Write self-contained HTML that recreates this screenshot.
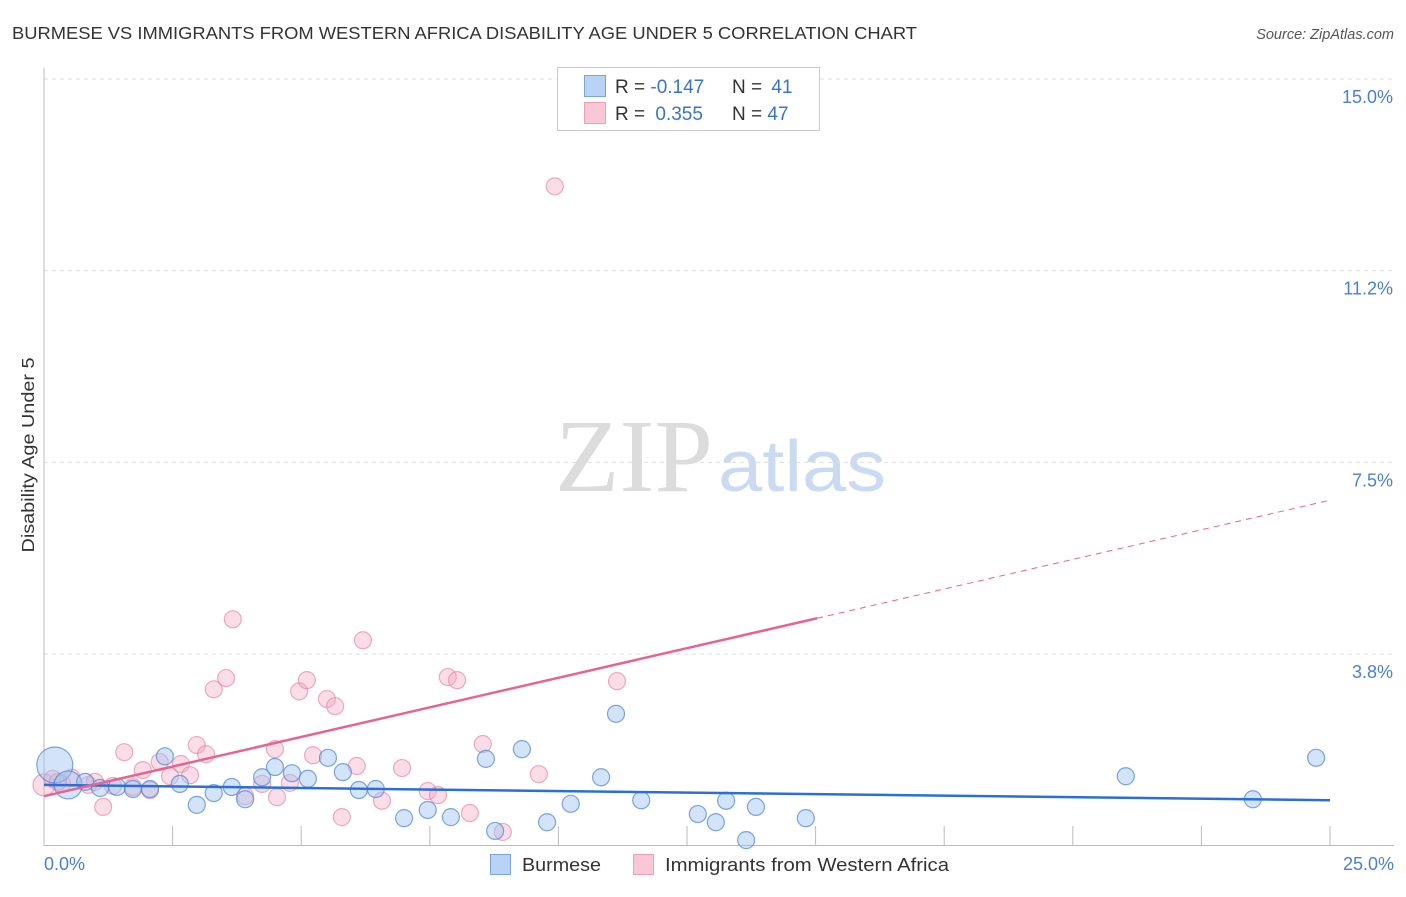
<!DOCTYPE html>
<html><head><meta charset="utf-8"><style>
body{margin:0;background:#fff;font-family:"Liberation Sans",sans-serif;}
</style></head><body>
<svg id="chart" width="1406" height="892" xmlns="http://www.w3.org/2000/svg" font-family="Liberation Sans, sans-serif">
<text x="12" y="39" font-size="17.5" fill="#333" textLength="905" lengthAdjust="spacingAndGlyphs">BURMESE VS IMMIGRANTS FROM WESTERN AFRICA DISABILITY AGE UNDER 5 CORRELATION CHART</text>
<text x="1394" y="39" font-size="14.5" fill="#555" font-style="italic" text-anchor="end">Source: ZipAtlas.com</text>
<g>
<text x="555" y="491" font-size="104" fill="#dcdcdc" font-family="Liberation Serif, serif" textLength="158" lengthAdjust="spacingAndGlyphs">ZIP</text>
<text x="718" y="491" font-size="72" fill="#c9daf2" textLength="168" lengthAdjust="spacingAndGlyphs">atlas</text>
</g>
<g id="grid"></g>
<g id="axes"></g>
<g id="marks"></g>
<text transform="translate(34,455) rotate(-90)" font-size="17.5" fill="#333" text-anchor="middle" textLength="195" lengthAdjust="spacingAndGlyphs">Disability Age Under 5</text>
<g>
<rect x="557.5" y="67.5" width="262" height="63" fill="#fff" stroke="#ccc"/>
<rect x="584.5" y="75.5" width="21" height="21" fill="#b9d3f5" stroke="#7aa5e0"/>
<rect x="584.5" y="102.5" width="21" height="21" fill="#f9c7d5" stroke="#eda0b8"/>
<text x="615" y="93" font-size="19" fill="#333">R = <tspan fill="#3a72d0">-0.147</tspan></text>
<text x="732" y="93" font-size="19" fill="#333">N = <tspan fill="#3a72d0" dx="4">41</tspan></text>
<text x="615" y="120" font-size="19" fill="#333">R = <tspan fill="#3a72d0" dx="5">0.355</tspan></text>
<text x="732" y="120" font-size="19" fill="#333">N = <tspan fill="#3a72d0">47</tspan></text>
</g>
<g>
<rect x="490.5" y="854.5" width="20" height="20" fill="#b9d3f5" stroke="#7aa5e0"/>
<text x="522" y="871" font-size="18" fill="#333" textLength="79" lengthAdjust="spacingAndGlyphs">Burmese</text>
<rect x="633.5" y="854.5" width="20" height="20" fill="#f9c7d5" stroke="#eda0b8"/>
<text x="665" y="871" font-size="18" fill="#333" textLength="284" lengthAdjust="spacingAndGlyphs">Immigrants from Western Africa</text>
</g>
</svg>
<script>
const xTicks=[0,2.5,5,7.5,10,12.5,15,17.5,20,22.5,25];
const yTicks=[3.75,7.5,11.25,15];
const yTickLabels=["3.8%","7.5%","11.2%","15.0%"];
const xTickLabels=["0.0%","25.0%"];
const burmeseX=[0.21,0.47,0.80,1.09,1.42,1.73,2.06,2.35,2.64,2.97,3.30,3.65,3.91,4.24,4.49,4.82,5.13,5.52,5.81,6.12,6.45,7.00,7.46,7.91,8.59,8.77,9.29,9.78,10.24,10.83,11.12,11.61,12.71,13.06,13.26,13.65,13.84,14.81,21.03,23.50,24.73];
const burmeseY=[1.58,1.19,1.25,1.13,1.15,1.11,1.11,1.75,1.21,0.80,1.03,1.15,0.91,1.34,1.54,1.42,1.31,1.72,1.44,1.09,1.11,0.54,0.70,0.56,1.70,0.29,1.89,0.46,0.82,1.34,2.58,0.89,0.62,0.46,0.88,0.11,0.76,0.54,1.36,0.91,1.72];
const wafricaX=[0.0,0.17,0.35,0.54,0.86,1.15,1.34,1.56,1.73,1.92,2.06,2.25,2.45,2.66,2.84,2.97,3.15,3.30,3.54,3.67,3.91,4.24,4.49,4.53,4.78,4.96,5.11,5.23,5.50,5.66,5.79,6.08,6.20,6.57,6.96,7.46,7.66,7.85,8.03,8.28,8.53,8.92,9.62,9.93,11.14,0.27,0.99];
const wafricaY=[1.19,1.31,1.21,1.33,1.19,0.76,1.17,1.83,1.15,1.48,1.09,1.64,1.36,1.60,1.38,1.97,1.79,3.06,3.28,4.43,0.97,1.21,1.89,0.95,1.23,3.02,3.24,1.77,2.87,2.73,0.56,1.56,4.02,0.88,1.52,1.07,0.99,3.30,3.24,0.64,1.99,0.27,1.40,12.90,3.22,1.25,1.25];
const burmeseTrend=[1.19,0.89];
const wafricaTrend=[0.97,6.76];
const wafricaSolidEnd=15.03;

const X0=44,X1=1330,Y0=845.75,Y1=79;
const xs=v=>X0+(v/25)*(X1-X0);
const ys=v=>Y0-(v/15)*(Y0-Y1);
const NS="http://www.w3.org/2000/svg";
function mk(tag,attrs,parent){const e=document.createElementNS(NS,tag);for(const k in attrs)e.setAttribute(k,attrs[k]);parent.appendChild(e);return e;}
const grid=document.getElementById('grid'),axes=document.getElementById('axes'),marks=document.getElementById('marks');
yTicks.forEach((t,i)=>{
 const l=mk('line',{x1:X0,x2:1394,y1:ys(t),y2:ys(t),stroke:'#ddd','stroke-dasharray':'4,4'},grid);
 
 
 const tx=mk('text',{x:1393,y:ys(t)+24,'font-size':18,fill:'#4a7fd6','text-anchor':'end'},axes);
 tx.textContent=yTickLabels[i];
 
 
});
const ax=mk('line',{x1:X0,x2:X0,y1:68,y2:846,stroke:'#bbb'},axes);


const bx=mk('line',{x1:X0,x2:1394,y1:845.5,y2:845.5,stroke:'#bbb'},axes);


xTicks.forEach(t=>{
 const l=mk('line',{x1:xs(t),x2:xs(t),y1:826,y2:846,stroke:'#bbb'},axes);
 
 
});
[[0,'start',44],[25,'end',1394]].forEach((d,i)=>{
 const tx=mk('text',{x:d[2],y:870,'font-size':18,fill:'#4a7fd6','text-anchor':d[1]},axes);
 tx.textContent=xTickLabels[i];
 
 
});
wafricaX.forEach((v,i)=>{
 const c=mk('circle',{cx:xs(v),cy:ys(wafricaY[i]),r:i==0?11:8.5,fill:'rgba(246,170,195,0.4)',stroke:'rgba(230,120,155,0.6)','stroke-width':1.2},marks);
 
 
});
burmeseX.forEach((v,i)=>{
 const c=mk('circle',{cx:xs(v),cy:ys(burmeseY[i]),r:i==0?18:(i==1?14:8.5),fill:'rgba(160,195,240,0.45)',stroke:'rgba(70,130,215,0.7)','stroke-width':1.2},marks);
 
 
});
const bt=mk('line',{x1:xs(0),y1:ys(burmeseTrend[0]),x2:xs(25),y2:ys(burmeseTrend[1]),stroke:'#2a6fd6','stroke-width':2.5},marks);


const wy=x=>wafricaTrend[0]+(wafricaTrend[1]-wafricaTrend[0])*x/25;
const wt=mk('line',{x1:xs(0),y1:ys(wy(0)),x2:xs(wafricaSolidEnd),y2:ys(wy(wafricaSolidEnd)),stroke:'#e8638f','stroke-width':2.5},marks);


const wd=mk('line',{x1:xs(wafricaSolidEnd),y1:ys(wy(wafricaSolidEnd)),x2:xs(25),y2:ys(wy(25)),stroke:'#e8638f','stroke-width':1,'stroke-dasharray':'6,5'},marks);


</script>
</body></html>
